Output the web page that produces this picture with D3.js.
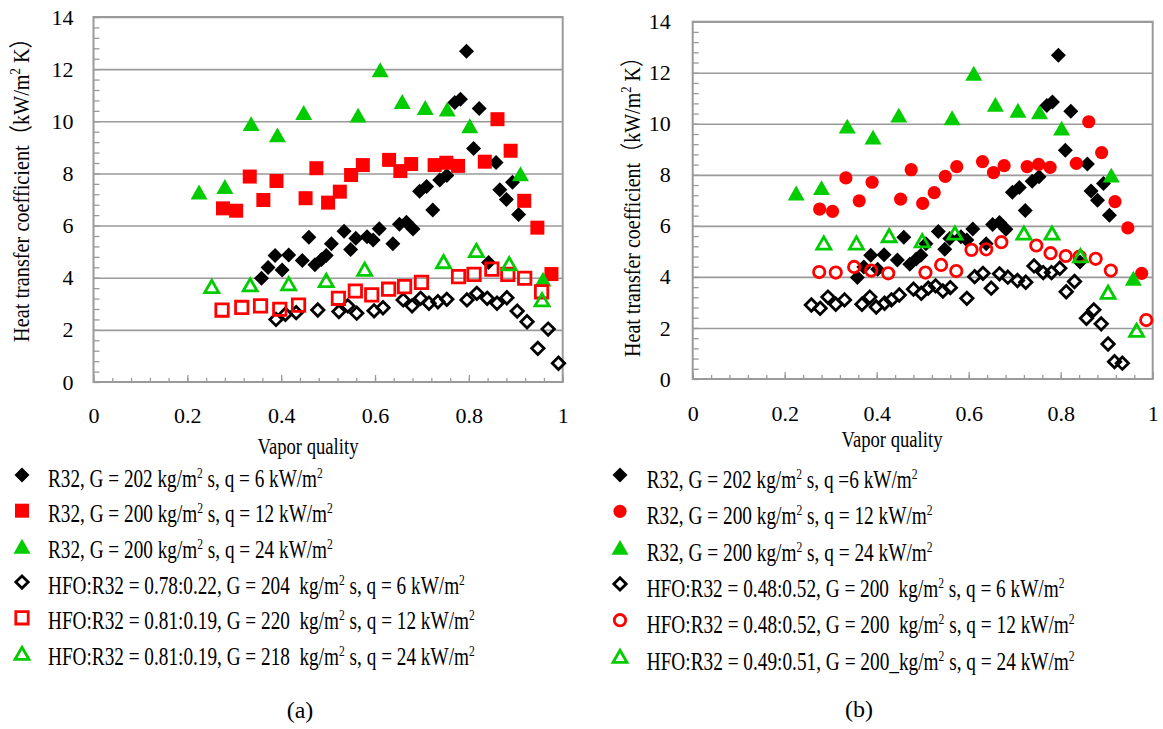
<!DOCTYPE html>
<html>
<head>
<meta charset="utf-8">
<script src="https://cdn.jsdelivr.net/npm/d3@7"></script>
<style>
  body { margin: 0; background: #fff; }
  text { font-family: "Liberation Serif", "Times New Roman", "Noto Sans CJK SC", serif; fill: #000; }
</style>
</head>
<body>
<svg id="chart" width="1163" height="729"></svg>
<script>
// ---- data: vapor quality (x) and heat transfer coefficient (kW/m2 K) ----
// R32 runs (identical in both panels)
const r32q6Quality  = [0.358,0.372,0.387,0.402,0.416,0.445,0.459,0.472,0.486,0.496,0.507,0.534,0.548,0.559,0.583,0.596,0.609,0.638,0.652,0.667,0.681,0.695,0.710,0.723,0.738,0.753,0.770,0.782,0.795,0.810,0.822,0.842,0.858,0.866,0.880,0.893,0.906];
const r32q6Htc      = [3.98,4.39,4.85,4.30,4.87,4.66,5.55,4.50,4.70,4.85,5.30,5.78,5.08,5.51,5.57,5.45,5.88,5.30,6.05,6.13,5.87,7.32,7.50,6.60,7.75,7.92,10.72,10.85,12.69,8.96,10.49,4.58,8.42,7.37,7.00,7.66,6.42];
const r32q12Quality = [0.276,0.304,0.333,0.362,0.390,0.452,0.475,0.500,0.525,0.549,0.574,0.630,0.654,0.677,0.727,0.752,0.777,0.834,0.861,0.889,0.918,0.946,0.976];
const r32q12Htc     = [6.66,6.57,7.88,6.98,7.71,7.05,8.20,6.88,7.30,7.94,8.32,8.52,8.09,8.36,8.32,8.41,8.29,8.45,10.08,8.87,6.95,5.92,4.14];
const r32q24Quality = [0.225,0.280,0.336,0.392,0.448,0.564,0.611,0.658,0.707,0.754,0.802,0.910,0.958];
const r32q24Htc     = [7.28,7.49,9.90,9.47,10.33,10.23,11.97,10.75,10.52,10.46,9.82,7.98,3.94];

// (a) HFO:R32 = 0.78:0.22 / 0.81:0.19
const hfoA6Quality  = [0.389,0.409,0.432,0.478,0.523,0.542,0.561,0.598,0.617,0.660,0.679,0.697,0.715,0.734,0.753,0.796,0.817,0.839,0.860,0.881,0.903,0.924,0.947,0.969,0.991];
const hfoA6Htc      = [2.40,2.60,2.66,2.76,2.70,2.92,2.64,2.73,2.85,3.15,2.92,3.21,3.02,3.08,3.17,3.15,3.40,3.21,3.02,3.23,2.72,2.31,1.29,2.03,0.72];
const hfoA12Quality = [0.274,0.316,0.356,0.397,0.437,0.522,0.558,0.593,0.629,0.663,0.699,0.778,0.811,0.849,0.883,0.919,0.955];
const hfoA12Htc     = [2.76,2.86,2.92,2.79,2.95,3.21,3.49,3.34,3.56,3.66,3.82,4.04,4.13,4.33,4.13,3.98,3.46];
const hfoA24Quality = [0.252,0.334,0.416,0.496,0.578,0.746,0.816,0.886,0.956];
const hfoA24Htc     = [3.66,3.72,3.76,3.89,4.32,4.61,5.04,4.53,3.15];

// (b) HFO:R32 = 0.48:0.52 / 0.49:0.51
const hfoB6Quality  = [0.258,0.277,0.294,0.311,0.330,0.368,0.385,0.399,0.417,0.432,0.449,0.480,0.497,0.512,0.528,0.544,0.560,0.596,0.613,0.631,0.649,0.667,0.685,0.706,0.724,0.742,0.762,0.780,0.798,0.812,0.830,0.856,0.872,0.888,0.903,0.917,0.934];
const hfoB6Htc      = [2.90,2.77,3.21,2.93,3.10,2.93,3.21,2.82,2.97,3.10,3.29,3.52,3.36,3.56,3.65,3.45,3.58,3.16,4.01,4.14,3.56,4.12,3.99,3.86,3.79,4.43,4.17,4.17,4.34,3.42,3.82,2.38,2.71,2.16,1.37,0.68,0.62];
const hfoB12Quality = [0.275,0.311,0.351,0.388,0.425,0.506,0.540,0.573,0.606,0.638,0.671,0.747,0.778,0.811,0.841,0.876,0.909,0.986];
const hfoB12Htc     = [4.19,4.17,4.39,4.25,4.14,4.17,4.47,4.23,5.06,5.08,5.36,5.23,4.93,4.82,4.80,4.71,4.25,2.31];
const hfoB24Quality = [0.285,0.356,0.427,0.499,0.570,0.720,0.781,0.843,0.903,0.965];
const hfoB24Htc     = [5.32,5.32,5.61,5.41,5.71,5.71,5.71,4.82,3.39,1.90];

// ticks and labels
const xTicks = [0, 0.2, 0.4, 0.6, 0.8, 1];
const xTickLabels = ["0", "0.2", "0.4", "0.6", "0.8", "1"];
const yTicks = [0, 2, 4, 6, 8, 10, 12, 14];

const legendA = [
  "R32, G = 202 kg/m^2 s, q = 6 kW/m^2",
  "R32, G = 200 kg/m^2 s, q = 12 kW/m^2",
  "R32, G = 200 kg/m^2 s, q = 24 kW/m^2",
  "HFO:R32 = 0.78:0.22, G = 204  kg/m^2 s, q = 6 kW/m^2",
  "HFO:R32 = 0.81:0.19, G = 220  kg/m^2 s, q = 12 kW/m^2",
  "HFO:R32 = 0.81:0.19, G = 218  kg/m^2 s, q = 24 kW/m^2"
];
const legendB = [
  "R32, G = 202 kg/m^2 s, q =6 kW/m^2",
  "R32, G = 200 kg/m^2 s, q = 12 kW/m^2",
  "R32, G = 200 kg/m^2 s, q = 24 kW/m^2",
  "HFO:R32 = 0.48:0.52, G = 200  kg/m^2 s, q = 6 kW/m^2",
  "HFO:R32 = 0.48:0.52, G = 200  kg/m^2 s, q = 12 kW/m^2",
  "HFO:R32 = 0.49:0.51, G = 200_kg/m^2 s, q = 24 kW/m^2"
];
const yTitle = "Heat transfer coefficient（kW/m^2 K）";
const xTitle = "Vapor quality";

// ---- marker shapes (size = half width) ----
const diamond = { draw(c, r) { c.moveTo(0, -r); c.lineTo(r, 0); c.lineTo(0, r); c.lineTo(-r, 0); c.closePath(); } };
const square = { draw(c, r) { c.rect(-r, -r, 2 * r, 2 * r); } };
const triangle = { draw(c, r) { c.moveTo(0, -r * 0.9); c.lineTo(r, r * 0.85); c.lineTo(-r, r * 0.85); c.closePath(); } };
const circle = { draw(c, r) { c.moveTo(r, 0); c.arc(0, 0, r, 0, 2 * Math.PI); } };

const RED = "#ff0000", GREEN = "#00cc00", BLACK = "#000";
const GRID = "#9a9a9a";

function r32Series(midShape) {
  return [
    { x: r32q6Quality,  y: r32q6Htc,  shape: diamond,  color: BLACK, filled: true, r: 7.5 },
    { x: r32q12Quality, y: r32q12Htc, shape: midShape, color: RED,   filled: true, r: midShape === circle ? 6.6 : 7 },
    { x: r32q24Quality, y: r32q24Htc, shape: triangle, color: GREEN, filled: true, r: 8.5 }
  ];
}

const panels = [
  {
    left: 93.5, right: 562.7, top: 17, bottom: 382, yLabGap: 20, xLabDy: 41,
    yTitle: [28.5, 185, 314], xTitle: [308, 454, 101], tag: ["(a)", 300, 718],
    legend: { mx: 22, tx: 48, y0: 475, step: 35.7, dy: 11.5, widths: [275, 285, 285, 417, 427, 427], labels: legendA },
    series: r32Series(square).concat([
      { x: hfoA6Quality,  y: hfoA6Htc,  shape: diamond,  color: BLACK, filled: false, r: 6.2 },
      { x: hfoA12Quality, y: hfoA12Htc, shape: square,   color: RED,   filled: false, r: 6.2 },
      { x: hfoA24Quality, y: hfoA24Htc, shape: triangle, color: GREEN, filled: false, r: 7 }
    ])
  },
  {
    left: 692.7, right: 1152.7, top: 21.7, bottom: 379, yLabGap: 22, xLabDy: 42,
    yTitle: [640, 202, 310], xTitle: [892, 447, 101], tag: ["(b)", 859, 717],
    legend: { mx: 620, tx: 646.7, y0: 475, step: 36.3, dy: 13, widths: [271, 286, 286, 418, 428, 428], labels: legendB },
    series: r32Series(circle).concat([
      { x: hfoB6Quality,  y: hfoB6Htc,  shape: diamond,  color: BLACK, filled: false, r: 6.2 },
      { x: hfoB12Quality, y: hfoB12Htc, shape: circle,   color: RED,   filled: false, r: 5.7 },
      { x: hfoB24Quality, y: hfoB24Htc, shape: triangle, color: GREEN, filled: false, r: 7 }
    ])
  }
];

const svg = d3.select("#chart");
svg.append("rect").attr("width", 1163).attr("height", 729).attr("fill", "#fff");

// text with superscript "2" written as ^2
function richText(t, str, supSize) {
  const parts = str.split("^2");
  parts.forEach((p, i) => {
    if (i > 0) t.append("tspan").attr("font-size", supSize).attr("dy", -9).text("2");
    if (p) t.append("tspan").attr("dy", i > 0 ? 9 : 0).text(p);
  });
  return t;
}

// squeeze text horizontally to the width measured in the figure
function fit(t, width, x, y, rot) {
  const w = t.node().getBBox().width;
  t.attr("transform", `translate(${x},${y})` + (rot ? ` rotate(${rot})` : "") + ` scale(${width / w},1)`);
}

function markerPath(s) {
  return d3.symbol().type(s.shape).size(s.r)();
}

function styleMarker(sel, s) {
  sel.attr("fill", s.filled ? s.color : "none")
    .attr("stroke", s.filled ? "none" : s.color)
    .attr("stroke-width", s.filled ? 0 : 2.8)
    .attr("stroke-linejoin", "miter");
}

panels.forEach(function (p) {
  const g = svg.append("g");
  const x = d3.scaleLinear().domain([0, 1]).range([p.left, p.right]);
  const y = d3.scaleLinear().domain([0, 14]).range([p.bottom, p.top]);

  // horizontal gridlines
  g.append("g")
    .attr("transform", `translate(${p.left},0)`)
    .call(d3.axisLeft(y).tickValues(yTicks.slice(1)).tickSize(-(p.right - p.left)).tickFormat(""))
    .call(s => s.select(".domain").remove())
    .selectAll("line").attr("stroke", GRID).attr("stroke-width", 1.6);

  // minor ticks (inside)
  g.append("g")
    .attr("transform", `translate(${p.left},0)`)
    .call(d3.axisLeft(y).tickValues(d3.range(0, 14.01, 0.4)).tickSize(-6).tickFormat(""))
    .call(s => s.select(".domain").remove())
    .selectAll("line").attr("stroke", GRID).attr("stroke-width", 1.3);
  g.append("g")
    .attr("transform", `translate(0,${p.bottom})`)
    .call(d3.axisBottom(x).tickValues(d3.range(0, 1.001, 0.04)).tickSize(-4).tickFormat(""))
    .call(s => s.select(".domain").remove())
    .selectAll("line").attr("stroke", GRID).attr("stroke-width", 1.3);
  g.append("g")
    .attr("transform", `translate(0,${p.bottom})`)
    .call(d3.axisBottom(x).tickValues(xTicks).tickSize(-7).tickFormat(""))
    .call(s => s.select(".domain").remove())
    .selectAll("line").attr("stroke", GRID).attr("stroke-width", 1.3);

  // plot frame
  g.append("rect")
    .attr("x", p.left).attr("y", p.top)
    .attr("width", p.right - p.left).attr("height", p.bottom - p.top)
    .attr("fill", "none").attr("stroke", GRID).attr("stroke-width", 2);

  // tick labels
  g.append("g")
    .attr("transform", `translate(${p.left},0)`)
    .call(d3.axisLeft(y).tickValues(yTicks).tickSize(0).tickPadding(p.yLabGap).tickFormat(d3.format("d")))
    .call(s => s.select(".domain").remove())
    .selectAll("text").attr("font-size", 22).attr("fill", "#000");
  g.append("g")
    .attr("transform", `translate(0,${p.bottom})`)
    .call(d3.axisBottom(x).tickValues(xTicks).tickSize(0).tickFormat((d, i) => xTickLabels[i]))
    .call(s => s.select(".domain").remove())
    .selectAll("text").attr("font-size", 22).attr("y", p.xLabDy).attr("dy", 0).attr("fill", "#000");
  g.selectAll("g").attr("font-family", null);

  // axis titles
  const yt = richText(g.append("text").attr("font-size", 24).attr("text-anchor", "middle"), yTitle, 15);
  fit(yt, p.yTitle[2], p.yTitle[0], p.yTitle[1], -90);
  const xt = g.append("text").attr("font-size", 24).attr("text-anchor", "middle").text(xTitle);
  fit(xt, p.xTitle[2], p.xTitle[0], p.xTitle[1]);
  g.append("text").attr("font-size", 24).attr("text-anchor", "middle")
    .attr("x", p.tag[1]).attr("y", p.tag[2]).text(p.tag[0]);

  // markers, one group per series, in legend order
  p.series.forEach(function (s) {
    const pts = d3.zip(s.x, s.y);
    g.append("g").selectAll("path").data(pts).join("path")
      .attr("transform", d => `translate(${x(d[0])},${y(d[1])})`)
      .attr("d", markerPath(s))
      .call(styleMarker, s);
  });

  // legend
  p.series.forEach(function (s, i) {
    const ly = p.legend.y0 + i * p.legend.step;
    g.append("path")
      .attr("transform", `translate(${p.legend.mx},${ly})`)
      .attr("d", markerPath(s))
      .call(styleMarker, s);
    const t = richText(g.append("text").attr("font-size", 25).style("white-space", "pre"), p.legend.labels[i], 15);
    fit(t, p.legend.widths[i], p.legend.tx, ly + p.legend.dy);
  });
});
</script>
</body>
</html>
